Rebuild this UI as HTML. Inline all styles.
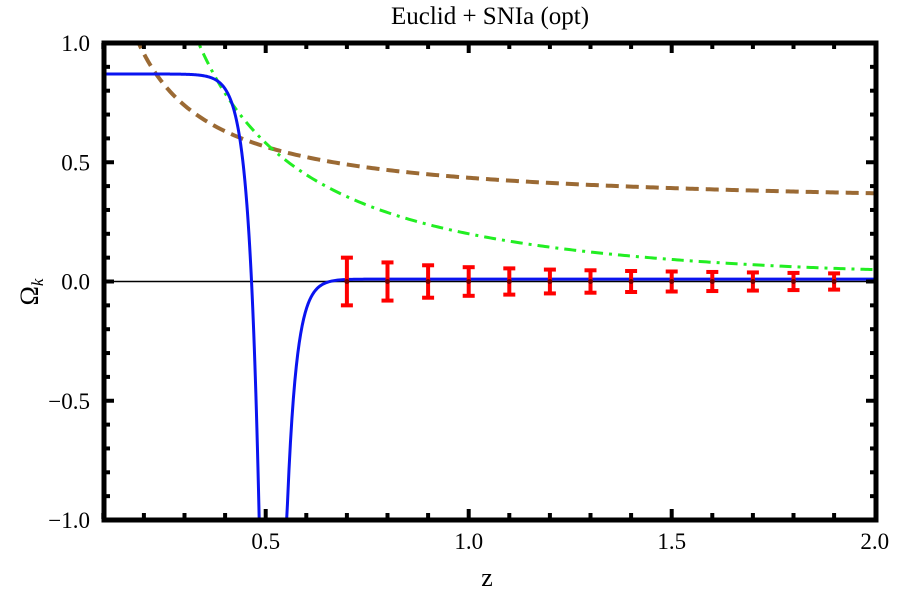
<!DOCTYPE html>
<html><head><meta charset="utf-8"><style>
html,body{margin:0;padding:0;background:#fff;}
svg{display:block;font-family:"Liberation Serif",serif;}
</style></head><body>
<svg id="s" width="903" height="593" xmlns="http://www.w3.org/2000/svg">
<text x="490" y="24" font-size="25" text-anchor="middle">Euclid + SNIa (opt)</text>
<text x="487" y="586" font-size="26" text-anchor="middle">z</text>
<text x="38" y="292" font-size="26" text-anchor="middle" transform="rotate(-90 38 292)">Ω<tspan font-size="17" font-style="italic" dy="5">k</tspan></text>
<g id="g"></g>
</svg>
<script>
const X=z=>468.7+(z-1)*406, Y=v=>281.5-v*238.5;
const g=document.getElementById('g');let h='';
h+='<defs><clipPath id="c"><rect x="104" y="43" width="772" height="477"/></clipPath></defs>';
h+='<line x1="104" x2="876" y1="281.5" y2="281.5" stroke="#000" stroke-width="1.5"/>';
function path(f,a,b,n){let d='';for(let i=0;i<=n;i++){const z=a+(b-a)*i/n;d+=(i?'L':'M')+X(z).toFixed(2)+' '+Y(f(z)).toFixed(2);}return d;}
let cl='clip-path="url(#c)"';
h+=`<path ${cl} d="${path(z=>0.305+0.13/z,0.18,2,300)}" fill="none" stroke="#9b6a34" stroke-width="4" stroke-dasharray="13,7"/>`;
h+=`<path ${cl} d="${path(z=>0.05+0.333*Math.pow(Math.max(1/z-0.5,0),1.15),0.32,2,300)}" fill="none" stroke="#22ee22" stroke-width="3" stroke-dasharray="12,6,3,6"/>`;
h+=`<path ${cl} d="${path(z=>Math.max(-1.05,0.87-1.87*Math.exp((z-0.484)/0.0247)),0.1,0.486,300)}" fill="none" stroke="#0a14f0" stroke-width="3"/>`;
h+=`<path ${cl} d="${path(z=>Math.max(-1.05,0.01-1.01*Math.exp(-(z-0.552)/0.023)),0.55,2,400)}" fill="none" stroke="#0a14f0" stroke-width="3"/>`;
const e=[0.1,0.08,0.068,0.06,0.055,0.05,0.047,0.044,0.042,0.04,0.038,0.036,0.034];
e.forEach((w,i)=>{const x=X(0.7+0.1*i),t=Y(w),b=Y(-w);
h+=`<g stroke="#f00" stroke-width="4"><line x1="${x}" x2="${x}" y1="${t}" y2="${b}"/><line x1="${x-6}" x2="${x+6}" y1="${t}" y2="${t}"/><line x1="${x-6}" x2="${x+6}" y1="${b}" y2="${b}"/></g>`;
h+=`<circle cx="${x}" cy="${Y(0)}" r="2.5" fill="#700"/>`;});
for(let k=1;k<=19;k++){const z=0.1*k;const x=X(z);const maj=Math.abs(z*2-Math.round(z*2))<1e-6;const L=maj?8:4;
h+=`<line x1="${x}" x2="${x}" y1="519" y2="${519-L-2}" stroke="#000" stroke-width="4"/><line x1="${x}" x2="${x}" y1="43" y2="${43+L+2}" stroke="#000" stroke-width="4"/>`;}
for(let k=-10;k<=10;k++){const v=k/10,y=Y(v);const maj=k%5==0;const L=maj?8:4;
h+=`<line x1="104" x2="${104+L+2}" y1="${y}" y2="${y}" stroke="#000" stroke-width="4"/><line x1="876" x2="${876-L-2}" y1="${y}" y2="${y}" stroke="#000" stroke-width="4"/>`;}
h+='<rect x="104" y="43" width="772" height="477" fill="none" stroke="#000" stroke-width="5"/>';
[[0.5,'0.5'],[1,'1.0'],[1.5,'1.5'],[2,'2.0']].forEach(([z,t])=>h+=`<text x="${X(z)}" y="549" font-size="23" text-anchor="middle">${t}</text>`);
[[1,'1.0'],[0.5,'0.5'],[0,'0.0'],[-0.5,'\u22120.5'],[-1,'\u22121.0']].forEach(([v,t])=>h+=`<text x="90" y="${Y(v)+8}" font-size="23" text-anchor="end">${t}</text>`);
g.innerHTML=h;
</script>
</body></html>
